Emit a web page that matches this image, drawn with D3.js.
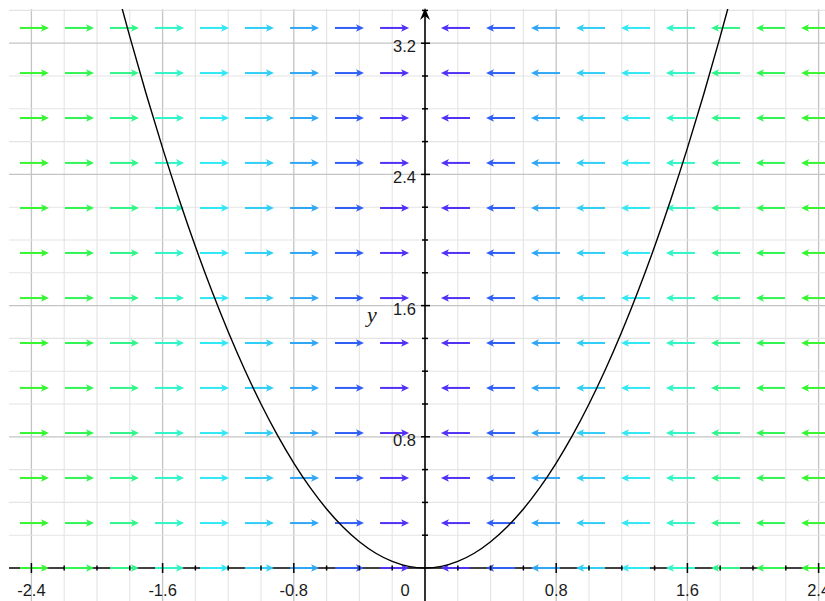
<!DOCTYPE html>
<html>
<head>
<meta charset="utf-8">
<script src="https://cdn.jsdelivr.net/npm/d3@7"></script>
<style>
  html, body { margin: 0; padding: 0; background: #fff; }
  svg { display: block; }
</style>
</head>
<body>
<svg id="chart" width="825" height="601"></svg>
<script>
// ---- data ----
const arrowXs = [-2.470, -2.195, -1.921, -1.646, -1.372, -1.098, -0.823, -0.549, -0.274,
                  0.274,  0.549,  0.823,  1.098,  1.372,  1.646,  1.921,  2.195,  2.470];
const arrowYs = [0, 0.274, 0.549, 0.823, 1.098, 1.372, 1.646, 1.921, 2.195, 2.470, 2.744, 3.018, 3.293];
const curveX = [-1.9,-1.8,-1.7,-1.6,-1.5,-1.4,-1.3,-1.2,-1.1,-1.0,-0.9,-0.8,-0.7,-0.6,-0.5,-0.4,-0.3,-0.2,-0.1,0,
                 0.1,0.2,0.3,0.4,0.5,0.6,0.7,0.8,0.9,1.0,1.1,1.2,1.3,1.4,1.5,1.6,1.7,1.8,1.9];
const curveY = [3.61,3.24,2.89,2.56,2.25,1.96,1.69,1.44,1.21,1.00,0.81,0.64,0.49,0.36,0.25,0.16,0.09,0.04,0.01,0,
                0.01,0.04,0.09,0.16,0.25,0.36,0.49,0.64,0.81,1.00,1.21,1.44,1.69,1.96,2.25,2.56,2.89,3.24,3.61];
const xTickLabels = ["-2.4", "-1.6", "-0.8", "0", "0.8", "1.6", "2.4"];
const xTickValues = [-2.4, -1.6, -0.8, 0, 0.8, 1.6, 2.4];
const yTickLabels = ["0.8", "1.6", "2.4", "3.2"];
const yTickValues = [0.8, 1.6, 2.4, 3.2];
const minorX = d3.range(-12, 13).map(i => +(i * 0.2).toFixed(2));
const minorY = d3.range(1, 18).map(i => +(i * 0.2).toFixed(2));

// ---- layout ----
const W = 825, H = 601;
const padL = 9, padT = 9;
const x = d3.scaleLinear().domain([-2.4, 2.4]).range([31.4, 818.6]);
const y = d3.scaleLinear().domain([0, 3.2]).range([568, 43.2]);
const svg = d3.select("#chart");

function hsv(h, s, v) {
  const c = v * s, hp = h / 60, xx = c * (1 - Math.abs(hp % 2 - 1));
  let r = 0, g = 0, b = 0;
  if (hp < 1) { r = c; g = xx; } else if (hp < 2) { r = xx; g = c; }
  else if (hp < 3) { g = c; b = xx; } else if (hp < 4) { g = xx; b = c; }
  else if (hp < 5) { r = xx; b = c; } else { r = c; b = xx; }
  const m = v - c;
  return d3.rgb((r + m) * 255, (g + m) * 255, (b + m) * 255).formatHex();
}
const hue = d3.scaleLinear()
  .domain([0.274, 0.549, 0.823, 1.098, 1.372, 1.646, 1.921, 2.195, 2.47])
  .range([250, 226, 204, 192, 184, 166, 147, 130, 118]);

svg.append("defs").append("clipPath").attr("id", "plot")
  .append("rect").attr("x", padL).attr("y", padT).attr("width", W - padL).attr("height", H - padT);

// ---- grid ----
const grid = svg.append("g");
const isMajor = v => Math.abs(v / 0.8 - Math.round(v / 0.8)) < 1e-6;
grid.selectAll("line.gx").data(minorX.filter(v => v !== 0)).join("line")
  .attr("x1", d => x(d)).attr("x2", d => x(d))
  .attr("y1", padT).attr("y2", H)
  .attr("stroke", d => isMajor(d) ? "#c4c4c4" : "#e4e4e4")
  .attr("stroke-width", d => isMajor(d) ? 1.3 : 1.1);
grid.selectAll("line.gy").data(minorY).join("line")
  .attr("y1", d => y(d)).attr("y2", d => y(d))
  .attr("x1", padL).attr("x2", W)
  .attr("stroke", d => isMajor(d) ? "#c4c4c4" : "#e4e4e4")
  .attr("stroke-width", d => isMajor(d) ? 1.3 : 1.1);

// ---- x axis line ----
svg.append("line").attr("x1", padL).attr("x2", W).attr("y1", y(0)).attr("y2", y(0))
  .attr("stroke", "#000").attr("stroke-width", 1.6);

// ---- arrows ----
const pts = [];
arrowYs.forEach(yy => arrowXs.forEach(xx => pts.push({ x: xx, y: yy })));
const L = 29, HL = 8, HW = 3.8;
const ag = svg.append("g").attr("clip-path", "url(#plot)");
pts.forEach(p => {
  const d = p.x < 0 ? 1 : -1;
  const col = hsv(hue(Math.abs(p.x)), 0.8, 0.96);
  const X0 = x(p.x), Y0 = y(p.y), tip = X0 + d * L;
  ag.append("line").attr("x1", X0).attr("x2", tip - d * HL * 0.7).attr("y1", Y0).attr("y2", Y0)
    .attr("stroke", col).attr("stroke-width", 2);
  ag.append("path")
    .attr("d", `M${tip},${Y0} L${tip - d * HL},${Y0 - HW} L${tip - d * HL * 0.75},${Y0} L${tip - d * HL},${Y0 + HW} Z`)
    .attr("fill", col);
});

// ---- ticks ----
const ticks = svg.append("g").attr("stroke", "#000").attr("stroke-width", 1.5);
ticks.selectAll("line.tx").data(minorX.filter(v => v !== 0)).join("line")
  .attr("x1", d => x(d)).attr("x2", d => x(d))
  .attr("y1", d => y(0) - (isMajor(d) ? 5 : 2.5)).attr("y2", d => y(0) + (isMajor(d) ? 5 : 2.5));
ticks.selectAll("line.ty").data(minorY).join("line")
  .attr("y1", d => y(d)).attr("y2", d => y(d))
  .attr("x1", d => x(0) - (isMajor(d) ? 4 : 3)).attr("x2", d => x(0) + (isMajor(d) ? 5 : 3));

// ---- y axis ----
const X0 = x(0);
svg.append("line").attr("x1", X0).attr("x2", X0).attr("y1", H).attr("y2", padT + 4)
  .attr("stroke", "#000").attr("stroke-width", 1.6);
svg.append("path")
  .attr("d", `M${X0},${padT - 1} L${X0 - 5},${padT + 11} L${X0},${padT + 7} L${X0 + 5},${padT + 11} Z`)
  .attr("fill", "#000");

// ---- curve ----
svg.append("path")
  .datum(curveX.map((v, i) => [v, curveY[i]]))
  .attr("clip-path", "url(#plot)")
  .attr("d", d3.line().x(d => x(d[0])).y(d => y(d[1])).curve(d3.curveCatmullRom))
  .attr("fill", "none").attr("stroke", "#000").attr("stroke-width", 1.4);

// ---- labels ----
const font = "'Liberation Sans', Arial, sans-serif";
svg.selectAll("text.xl").data(xTickValues).join("text")
  .attr("x", d => d === 0 ? x(0) - 20 : x(d))
  .attr("y", 596)
  .attr("text-anchor", "middle")
  .attr("font-family", font).attr("font-size", 16.5).attr("fill", "#1a1a1a")
  .text((d, i) => xTickLabels[i]);
svg.selectAll("text.yl").data(yTickValues).join("text")
  .attr("x", X0 - 9)
  .attr("y", d => y(d) + 9)
  .attr("text-anchor", "end")
  .attr("font-family", font).attr("font-size", 16.5).attr("fill", "#1a1a1a")
  .text((d, i) => yTickLabels[i]);
svg.append("text").attr("x", 367).attr("y", 322)
  .attr("font-family", "'Liberation Serif', 'Times New Roman', serif")
  .attr("font-style", "italic").attr("font-size", 22).attr("fill", "#1a1a1a")
  .text("y");
</script>
</body>
</html>
